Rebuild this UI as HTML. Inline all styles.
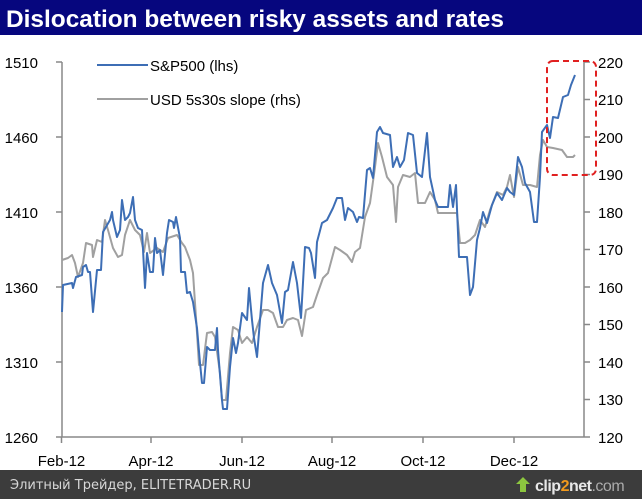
<!DOCTYPE html>
<html><head><meta charset="utf-8"><style>
body{margin:0;width:642px;height:499px;overflow:hidden;background:#fff;font-family:"Liberation Sans",Arial,sans-serif}
</style></head><body>
<svg width="642" height="499" viewBox="0 0 642 499" xmlns="http://www.w3.org/2000/svg" font-family="Liberation Sans, Arial, sans-serif">
<rect x="0" y="0" width="642" height="35" fill="#06067e"/>
<text x="6" y="27" font-size="24" font-weight="bold" fill="#fff" textLength="498" lengthAdjust="spacingAndGlyphs">Dislocation between risky assets and rates</text>
<g stroke="#888" stroke-width="1.5" fill="none">
<line x1="62" y1="62" x2="62" y2="437"/>
<line x1="584" y1="62" x2="584" y2="437"/>
<line x1="56" y1="437" x2="590" y2="437"/>
<path d="M56 62H62M56 137H62M56 212H62M56 287H62M56 362H62"/>
<path d="M584 62H590M584 99.5H590M584 137H590M584 174.5H590M584 212H590M584 249.5H590M584 287H590M584 324.5H590M584 362H590M584 399.5H590"/>
<path d="M61.5 437V443M151 437V443M242 437V443M332 437V443M423 437V443M514 437V443"/>
</g>
<g font-size="15" fill="#000">
<text x="38" y="68" text-anchor="end">1510</text>
<text x="38" y="143" text-anchor="end">1460</text>
<text x="38" y="218" text-anchor="end">1410</text>
<text x="38" y="293" text-anchor="end">1360</text>
<text x="38" y="368" text-anchor="end">1310</text>
<text x="38" y="443" text-anchor="end">1260</text>
<text x="598" y="68">220</text><text x="598" y="105">210</text><text x="598" y="143">200</text><text x="598" y="180">190</text><text x="598" y="218">180</text><text x="598" y="255">170</text><text x="598" y="293">160</text><text x="598" y="330">150</text><text x="598" y="368">140</text><text x="598" y="405">130</text><text x="598" y="443">120</text>
<text x="61.5" y="466" text-anchor="middle">Feb-12</text>
<text x="151" y="466" text-anchor="middle">Apr-12</text>
<text x="242" y="466" text-anchor="middle">Jun-12</text>
<text x="332" y="466" text-anchor="middle">Aug-12</text>
<text x="423" y="466" text-anchor="middle">Oct-12</text>
<text x="514" y="466" text-anchor="middle">Dec-12</text>
<text x="150" y="71">S&amp;P500 (lhs)</text>
<text x="150" y="105">USD 5s30s slope (rhs)</text>
</g>
<line x1="97" y1="65" x2="148" y2="65" stroke="#3d6eb5" stroke-width="2"/>
<line x1="97" y1="99" x2="148" y2="99" stroke="#a0a0a0" stroke-width="2"/>
<polyline fill="none" stroke="#a0a0a0" stroke-width="2" stroke-linejoin="round" points="62,260 68,258 72,255 75,263 78,277 83,263 86,243 92,245 93,257 97,240 102,242 105,220 108,230 113,248 118,257 122,255 125,235 130,220 135,230 140,235 144,252 147,233 150,253 157,248 163,252 168,238 177,235 182,243 185,247 190,260 193,273 197,333 199,365 203,365 207,333 212,332 215,337 220,373 222,400 226,400 230,353 233,327 238,330 242,343 247,337 252,343 257,327 263,310 268,310 273,313 278,327 283,327 287,320 293,318 298,320 302,336 306,310 313,307 317,295 323,278 328,273 335,247 340,250 347,255 352,262 355,252 360,248 365,217 370,203 375,167 378,143 382,157 387,177 393,185 396,222 398,187 403,175 410,177 415,173 418,203 425,203 430,192 435,200 438,213 443,213 450,213 457,213 460,243 465,243 470,240 475,235 480,220 485,227 490,210 497,192 503,195 507,187 510,175 514,197 518,167 523,185 530,185 537,187 540,155 543,140 547,147 553,148 562,150 567,157 573,157 575,155"/>
<polyline fill="none" stroke="#3d6eb5" stroke-width="2" stroke-linejoin="round" points="62,312 63,285 72,283 73,288 76,277 82,275 83,267 86,265 88,272 90,272 93,312 97,270 101,270 103,232 110,220 112,212 113,220 117,237 120,230 122,200 125,220 128,217 130,213 133,197 135,220 138,228 142,230 145,288 147,253 150,272 153,272 155,238 157,253 160,250 163,275 167,233 169,220 173,222 174,228 176,217 180,238 181,272 185,272 187,293 190,292 193,302 197,328 200,363 202,383 204,383 207,347 210,350 215,350 217,328 218,350 222,400 223,409 227,409 230,367 233,338 236,353 238,343 242,313 247,320 249,288 252,320 254,338 257,357 260,320 263,283 268,265 272,283 277,295 282,323 285,292 288,290 293,262 297,283 301,318 305,247 309,248 311,253 315,278 317,242 322,223 327,220 333,208 337,198 342,198 345,220 348,208 353,212 357,222 359,217 363,218 367,170 370,168 373,178 377,132 380,127 383,133 390,135 393,167 397,157 400,167 404,160 408,133 413,135 417,173 422,177 427,133 430,177 435,200 438,207 448,207 450,185 453,207 456,185 459,257 467,257 470,295 473,287 477,240 480,228 483,212 487,223 492,205 497,193 502,200 507,188 510,192 514,195 518,157 522,167 525,183 530,192 534,222 537,222 540,177 542,132 547,125 550,138 553,117 558,118 563,97 568,95 571,85 575,75"/>
<rect x="547" y="61" width="49" height="114" rx="6" fill="none" stroke="#e02020" stroke-width="2" stroke-dasharray="6,4"/>
<rect x="0" y="470" width="642" height="29" fill="#3c3c3c"/>
<text x="10" y="489" font-size="13" fill="#d8d8d8" font-family="DejaVu Sans, sans-serif">Элитный Трейдер, ELITETRADER.RU</text>
<text x="535" y="491" font-size="16" font-weight="bold" fill="#e8e8e8" letter-spacing="-0.5">clip<tspan fill="#f29a1d">2</tspan>net<tspan fill="#aaa" font-weight="normal">.com</tspan></text>
<path d="M520 492V484H516L523 477L530 484H526V492Z" fill="#8cc63f"/>
</svg>
</body></html>
